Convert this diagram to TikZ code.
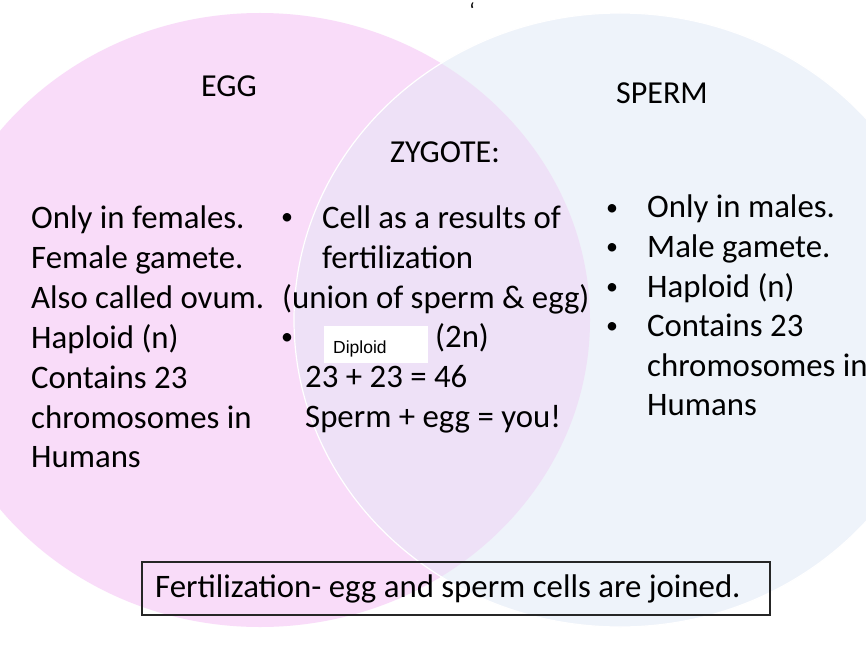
\documentclass[tikz,border=0pt]{standalone}
\usepackage{fontspec}
\setmainfont{Carlito}
\newfontfamily\arialf{Liberation Sans}
\definecolor{pinkc}{RGB}{249,220,249}
\definecolor{bluec}{RGB}{238,243,250}
\definecolor{overc}{RGB}{238,225,247}
\begin{document}
\begin{tikzpicture}[x=1pt,y=-1pt,
  txt/.style={anchor=base west,inner sep=0pt,font=\fontsize{32.8}{39.7}\selectfont},
  head/.style={anchor=base west,inner sep=0pt,font=\fontsize{32}{38}\selectfont},
  bul/.style={anchor=base,inner sep=0pt,font=\fontsize{24}{28}\selectfont},
  diptxt/.style={anchor=base west,inner sep=0pt,font=\arialf\fontsize{17.5}{20}\selectfont}]
\useasboundingbox (0,0) rectangle (866,652);
\fill[white] (0,0) rectangle (866,652);
% circles
\fill[pinkc] (260,320) ellipse [x radius=330pt, y radius=307pt];
\fill[bluec] (620,320) ellipse [x radius=326pt, y radius=307pt];
\begin{scope}
  \clip (260,320) ellipse [x radius=330pt, y radius=307pt];
  \fill[overc] (620,320) ellipse [x radius=326pt, y radius=307pt];
\end{scope}
\draw[white, line width=1.2pt] (620,320) ellipse [x radius=326pt, y radius=307pt];
% small mark
\node[inner sep=0pt, anchor=base, font=\fontsize{22}{24}\selectfont] (mark) at (472,19) {‘};
% headings
\node[head] (egg) at (201,97) {EGG};
\node[head] (sperm) at (616,104) {SPERM};
\node[head] (zyg) at (390,163) {ZYGOTE:};
% left column
\node[txt] (l1) at (31,228) {Only in females.};
\node[txt] (l2) at (31,268) {Female gamete.};
\node[txt] (l3) at (31,308) {Also called ovum.};
\node[txt] (l4) at (31,348) {Haploid (n)};
\node[txt] (l5) at (31,388) {Contains 23};
\node[txt] (l6) at (31,428) {chromosomes in};
\node[txt] (l7) at (31,467) {Humans};
% middle column
\node[bul] (mb1) at (287,225) {•};
\node[txt] (m1) at (322,228) {Cell as a results of};
\node[txt] (m2) at (322,268) {fertilization};
\node[txt] (m3) at (282,308) {(union of sperm \& egg)};
\node[bul] (mb2) at (287,344) {•};
\node[fill=white, anchor=north west, minimum width=104pt, minimum height=37pt, inner sep=0pt] (dipbox) at (324,326) {};
\node[diptxt] (dip) at (333,353) {Diploid};
\node[txt] (m4) at (435,347) {(2n)};
\node[txt] (m5) at (305,387) {23 + 23 = 46};
\node[txt] (m6) at (305,427) {Sperm + egg = you!};
% right column
\node[bul] (rb1) at (612,215) {•};
\node[bul] (rb2) at (612,254.5) {•};
\node[bul] (rb3) at (612,294) {•};
\node[bul] (rb4) at (612,333.5) {•};
\node[txt] (r1) at (647,218) {Only in males.};
\node[txt] (r2) at (647,257.5) {Male gamete.};
\node[txt] (r3) at (647,297) {Haploid (n)};
\node[txt] (r4) at (647,336.5) {Contains 23};
\node[txt] (r5) at (647,376) {chromosomes in};
\node[txt] (r6) at (647,415) {Humans};
% bottom box
\node[draw=black!85, line width=1.8pt, anchor=north west, minimum width=628pt, minimum height=53pt, inner sep=0pt] (fbox) at (141,561) {};
\node[txt] (ftxt) at (155,597) {Fertilization- egg and sperm cells are joined.};
\end{tikzpicture}
\end{document}
